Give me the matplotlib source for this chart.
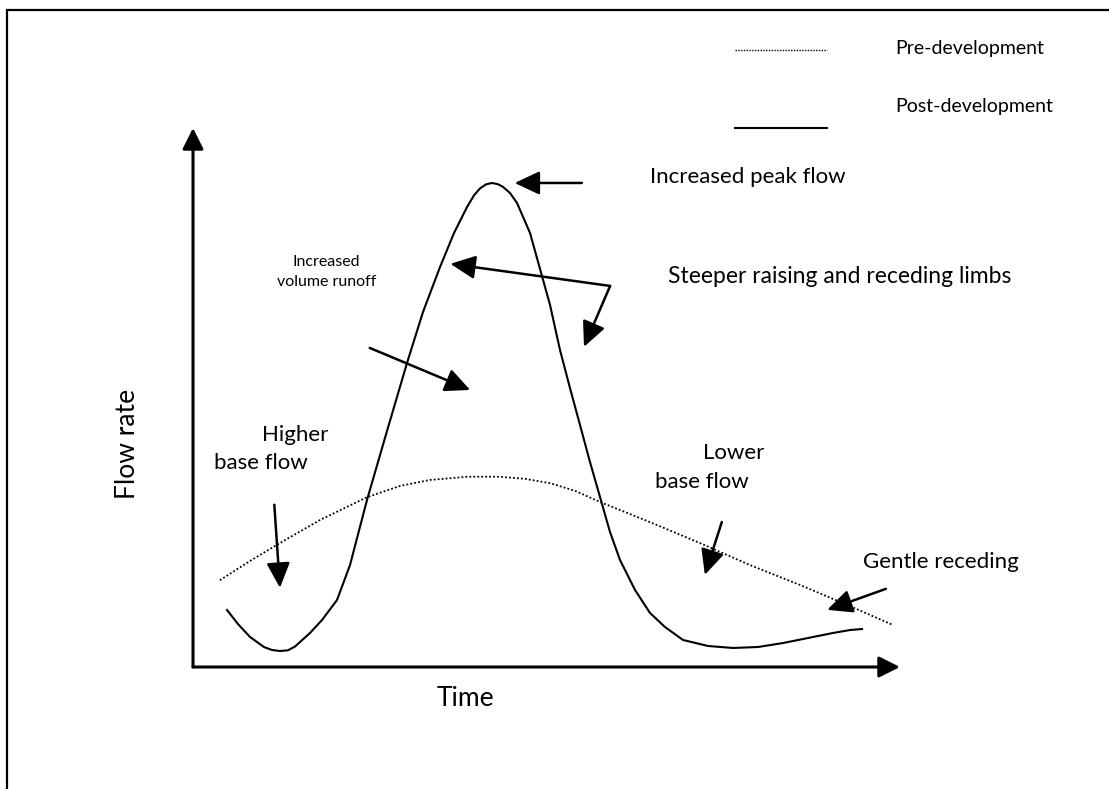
import matplotlib
matplotlib.use('Agg')
from matplotlib import pyplot as plt
from matplotlib.patches import Rectangle

plt.rcParams['font.family'] = ['Lato', 'DejaVu Sans']

# post-development hydrograph (time, flow)
post_t = [4.81, 6.36, 8.06, 10.04, 11.17, 12.31, 13.44, 14.43, 16.55, 18.25, 20.37, 22.21,
          24.61, 27.44, 30.27, 32.53, 34.94, 36.92, 38.76, 39.75, 40.59, 41.44, 42.29,
          43.14, 43.85, 44.84, 45.83, 47.67, 49.36, 50.50, 51.91, 53.32, 54.74, 56.15,
          57.57, 58.98, 60.40, 62.52, 64.64, 66.76, 69.31, 72.84, 76.38, 79.92, 83.45,
          86.99, 90.52, 92.93, 94.63]
post_q = [10.58, 7.98, 5.57, 3.71, 3.15, 2.97, 3.10, 3.80, 6.31, 8.72, 12.43, 18.92,
          30.98, 43.78, 56.40, 65.86, 74.21, 80.52, 85.34, 87.52, 88.78, 89.54, 89.80,
          89.57, 89.07, 87.94, 86.09, 80.52, 72.54, 67.16, 58.81, 51.76, 44.90, 38.03,
          31.54, 25.05, 19.85, 14.29, 10.02, 7.42, 5.01, 3.90, 3.53, 3.71, 4.45, 5.38,
          6.31, 6.86, 7.05]

# pre-development hydrograph
pre_t = [3.8, 8.1, 12.3, 18.0, 24.6, 29.3, 33.5, 38.8, 43.4, 47.0, 50.5, 54.0, 57.6,
         64.6, 71.7, 78.8, 85.9, 92.9, 99.0]
pre_q = [16.1, 19.7, 23.0, 27.3, 31.5, 33.6, 34.7, 35.3, 35.3, 34.9, 34.1, 32.7, 30.6,
         26.9, 23.0, 18.9, 15.2, 11.3, 7.8]

fig = plt.figure(figsize=(11.09, 7.89), dpi=100)
fig.patches.append(Rectangle((7 / 1109, -0.2), 1.2, 1.2 - 10 / 789,
                             transform=fig.transFigure, fill=False, lw=1.6,
                             ec='black'))

ax = fig.add_axes([193 / 1109, 122 / 789, 707 / 1109, 539 / 789])
ax.set_xlim(0, 100)
ax.set_ylim(0, 100)
ax.axis('off')

ax.plot(post_t, post_q, color='black', lw=1.5, solid_joinstyle='round', clip_on=False)
ax.plot(pre_t, pre_q, color='black', lw=1.3, linestyle=(0, (1, 1.2)), clip_on=False)

# axes with arrow heads
axis_style = dict(arrowstyle='-|>,head_length=0.8,head_width=0.4', lw=2.2,
                  color='black', mutation_scale=16, shrinkA=0, shrinkB=0)
ax.annotate('', xy=(0, 100), xytext=(0, 0), arrowprops=axis_style, annotation_clip=False)
ax.annotate('', xy=(100, 0), xytext=(0, 0), arrowprops=axis_style, annotation_clip=False)

# pointer arrows: (tail, head)
pointers = [((55.0, 89.8), (45.5, 89.8)),
            ((59.0, 70.7), (36.4, 74.8)),
            ((59.0, 70.7), (55.3, 59.4)),
            ((25.0, 59.2), (39.2, 51.4)),
            ((11.5, 30.1), (12.3, 14.7)),
            ((74.8, 26.9), (72.4, 17.1)),
            ((98.0, 14.5), (89.7, 10.6))]
arrow_style = dict(arrowstyle='-|>,head_length=0.85,head_width=0.4', lw=1.8,
                   color='black', mutation_scale=18, shrinkA=0, shrinkB=0)
for tail, head in pointers:
    ax.annotate('', xy=head, xytext=tail, arrowprops=arrow_style, annotation_clip=False)

# legend
ax.plot([76.7, 89.7], [114.5, 114.5], color='black', lw=1.0, linestyle=(0, (1, 1)), clip_on=False)
ax.plot([76.7, 89.7], [100.0, 100.0], color='black', lw=1.5, clip_on=False)
ax.text(99.3, 114.8, 'Pre-development', fontsize=14, va='center', ha='left')
ax.text(99.3, 103.9, 'Post-development', fontsize=14, va='center', ha='left')

ax.text(64.6, 90.9, 'Increased peak flow', fontsize=16, va='center', ha='left')
ax.text(67.2, 72.5, 'Steeper raising and receding limbs', fontsize=16.5, va='center', ha='left')
ax.text(18.9, 73.3, 'Increased\nvolume runoff', fontsize=11.5, va='center', ha='center',
        linespacing=1.6)
ax.text(9.8, 43.0, 'Higher', fontsize=16, va='center', ha='left')
ax.text(3.0, 37.9, 'base flow', fontsize=16, va='center', ha='left')
ax.text(72.1, 39.7, 'Lower', fontsize=16, va='center', ha='left')
ax.text(65.4, 34.3, 'base flow', fontsize=16, va='center', ha='left')
ax.text(94.8, 19.5, 'Gentle receding', fontsize=16, va='center', ha='left')
ax.text(38.6, -5.8, 'Time', fontsize=19, va='center', ha='center')
ax.text(-9.2, 41.4, 'Flow rate', fontsize=19, va='center', ha='center', rotation=90)

fig.savefig('out.png', dpi=100)
